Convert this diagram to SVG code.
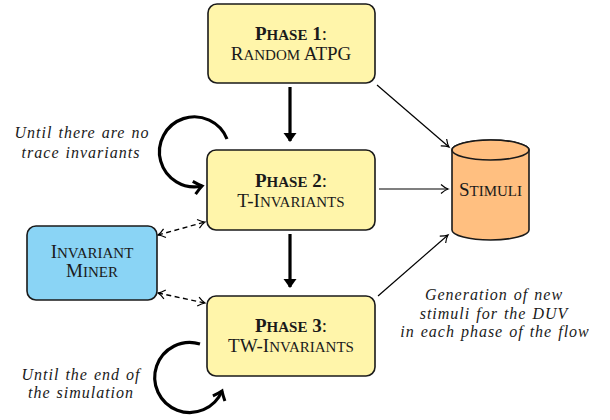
<svg xmlns="http://www.w3.org/2000/svg" width="610" height="420" viewBox="0 0 610 420">
<defs>
<style>
text{font-family:'Liberation Serif',Tinos,'Times New Roman',Times,'Nimbus Roman','Noto Serif',serif}
.box{stroke:#1a1a1a;stroke-width:1.6}
.ph{fill:#FFF5AA}
.lbl{font-size:19px;fill:#1a1a1a;text-anchor:middle}
.sc{font-size:15px}
.b{font-weight:bold}
.it{font-style:italic;font-size:16px;fill:#1a1a1a;text-anchor:middle;letter-spacing:1px;word-spacing:1px}
.thin{stroke:#000;stroke-width:1.2;fill:none}
.thick{stroke:#000;stroke-width:3.2;fill:none}
.dash{stroke:#000;stroke-width:1.4;fill:none;stroke-dasharray:5 3.5}
</style>
<marker id="open" markerUnits="userSpaceOnUse" markerWidth="14" markerHeight="14" viewBox="-10 -7 12 14" refX="0" refY="0" orient="auto-start-reverse">
<path d="M-7,-4.5 Q-3,-1 0,0 Q-3,1 -7,4.5" fill="none" stroke="#000" stroke-width="1.2"/>
</marker>
<marker id="tri" markerUnits="userSpaceOnUse" markerWidth="16" markerHeight="16" viewBox="-12 -8 14 16" refX="0" refY="0" orient="auto">
<path d="M-8,-6.5 L1,0 L-8,6.5 Z" fill="#000"/>
</marker>
<marker id="chev" markerUnits="userSpaceOnUse" markerWidth="18" markerHeight="18" viewBox="-12 -9 14 18" refX="0" refY="0" orient="auto">
<path d="M-8,-6.5 Q-3,-2 0,0 Q-3,2 -8,6.5" fill="none" stroke="#000" stroke-width="3"/>
</marker>
</defs>
<g id="connectors">
<line class="thick" x1="290" y1="87" x2="290" y2="141" marker-end="url(#tri)"/>
<line class="thick" x1="290" y1="234" x2="290" y2="287" marker-end="url(#tri)"/>
<line class="thin" x1="377" y1="85" x2="449" y2="147" marker-end="url(#open)"/>
<line class="thin" x1="379" y1="189" x2="448" y2="189" marker-end="url(#open)"/>
<line class="thin" x1="378" y1="296" x2="448" y2="235" marker-end="url(#open)"/>
<line class="dash" x1="158" y1="235" x2="205" y2="222" marker-start="url(#open)" marker-end="url(#open)"/>
<line class="dash" x1="158" y1="293" x2="205" y2="303" marker-start="url(#open)" marker-end="url(#open)"/>
<path class="thick" d="M227,139 A35,35 0 1 0 202,186" marker-end="url(#chev)"/>
<path class="thick" d="M200,344 A35,35 0 1 0 222,391" marker-end="url(#chev)"/>
</g>
<g id="phase1">
<rect class="box ph" x="208" y="4" width="167" height="79" rx="9"/>
<text class="lbl" x="291" y="40"><tspan class="b">P<tspan class="sc">HASE</tspan> 1</tspan>:</text>
<text class="lbl" x="291" y="60">R<tspan class="sc">ANDOM</tspan> ATPG</text>
</g>
<g id="phase2">
<rect class="box ph" x="207" y="150" width="168" height="80" rx="9"/>
<text class="lbl" x="291" y="187"><tspan class="b">P<tspan class="sc">HASE</tspan> 2</tspan>:</text>
<text class="lbl" x="291" y="207">T-I<tspan class="sc">NVARIANTS</tspan></text>
</g>
<g id="phase3">
<rect class="box ph" x="207" y="296" width="168" height="80" rx="9"/>
<text class="lbl" x="291" y="332"><tspan class="b">P<tspan class="sc">HASE</tspan> 3</tspan>:</text>
<text class="lbl" x="291" y="352">TW-I<tspan class="sc">NVARIANTS</tspan></text>
</g>
<g id="miner">
<rect class="box" fill="#8AD4F5" x="27" y="226" width="130" height="74" rx="9"/>
<text class="lbl" x="92" y="258">I<tspan class="sc">NVARIANT</tspan></text>
<text class="lbl" x="92" y="277">M<tspan class="sc">INER</tspan></text>
</g>
<g id="stimuli">
<path class="box" fill="#FFBF80" d="M452,150 L452,230 A38.5,10 0 0 0 529,230 L529,150 A38.5,10 0 0 0 452,150 Z"/>
<ellipse class="box" fill="#FFBF80" cx="490.5" cy="150" rx="38.5" ry="10"/>
<text class="lbl" x="490.5" y="196">S<tspan class="sc">TIMULI</tspan></text>
</g>
<g id="notes">
<text class="it" x="82" y="138">Until there are no</text>
<text class="it" x="81" y="158">trace invariants</text>
<text class="it" x="81" y="380">Until the end of</text>
<text class="it" x="81" y="398">the simulation</text>
<text class="it" x="494" y="300">Generation of new</text>
<text class="it" x="494" y="318.5">stimuli for the DUV</text>
<text class="it" x="495" y="337">in each phase of the flow</text>
</g>
</svg>
